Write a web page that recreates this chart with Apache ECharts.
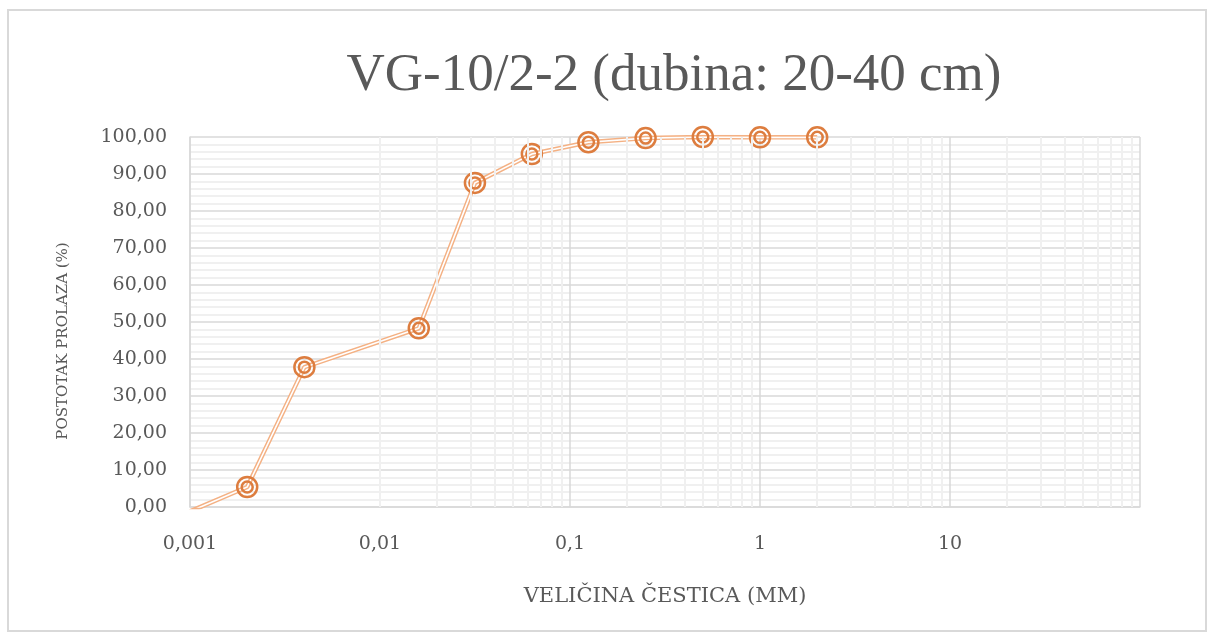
<!DOCTYPE html>
<html>
<head>
<meta charset="utf-8">
<style>
  html, body { margin: 0; padding: 0; background: #fff; }
  #chart { width: 1216px; height: 641px; }
</style>
<script src="https://cdn.jsdelivr.net/npm/echarts@6/dist/echarts.min.js"></script>
</head>
<body>
<div id="chart"></div>
<script>
// veličina čestica (mm) i postotak prolaza (%)
const particleSize = [0.001, 0.002, 0.004, 0.016, 0.0316, 0.063, 0.125, 0.25, 0.5, 1, 2]
const passing = [-1.2, 5.4, 37.8, 48.3, 87.6, 95.4, 98.6, 99.7, 100, 99.9, 99.9]

// pomoćne vertikalne linije (2..9 u svakoj dekadi)
const decades = [0.001, 0.01, 0.1, 1, 10]
const minorSteps = [2, 3, 4, 5, 6, 7, 8, 9]

const titleFont = '"Liberation Serif", "Times New Roman", serif'
const axisFont = '"DejaVu Serif", serif'
const textColor = '#595959'
const lineColor = '#f4b184'
const markerColor = '#dd7d3f'

const points = particleSize.map((x, i) => [x, passing[i]])

const minorLines = []
decades.forEach(d => {
  minorSteps.forEach(s => {
    minorLines.push({ xAxis: Number((d * s).toPrecision(6)) })
  })
})

const fmtComma = v => String(Number(v.toPrecision(6))).replace('.', ',')

const chart = echarts.init(document.getElementById('chart'))

chart.setOption({
  animation: false,
  graphic: [
    {
      type: 'rect',
      shape: { x: 8, y: 10, width: 1198, height: 621 },
      style: { fill: 'none', stroke: '#d9d9d9', lineWidth: 2 },
      silent: true
    },
    {
      type: 'text',
      x: 674,
      y: 76,
      style: {
        text: 'VG-10/2-2 (dubina: 20-40 cm)',
        fill: textColor,
        font: '53px ' + titleFont,
        textAlign: 'center',
        textVerticalAlign: 'middle'
      }
    },
    {
      // naziv y osi
      type: 'text',
      x: 63,
      y: 341,
      rotation: Math.PI / 2,
      style: {
        text: 'POSTOTAK PROLAZA (%)',
        fill: textColor,
        font: '15px ' + axisFont,
        textAlign: 'center',
        textVerticalAlign: 'middle'
      }
    }
  ],
  grid: {
    left: 190,
    right: 76,
    top: 137,
    bottom: 134
  },
  xAxis: {
    type: 'log',
    logBase: 10,
    min: 0.001,
    max: 100,
    name: 'VELIČINA ČESTICA (MM)',
    nameLocation: 'middle',
    nameGap: 79,
    nameTextStyle: { color: textColor, fontFamily: axisFont, fontSize: 21 },
    axisLine: { show: true, lineStyle: { color: '#d9d9d9', width: 1.5 } },
    axisTick: { show: false },
    axisLabel: {
      color: textColor,
      fontFamily: axisFont,
      fontSize: 19,
      margin: 28,
      showMaxLabel: false,
      formatter: fmtComma
    },
    splitLine: { show: true, lineStyle: { color: '#d9d9d9', width: 1.5 } }
  },
  yAxis: {
    type: 'value',
    min: 0,
    max: 100,
    interval: 10,
    axisLine: { show: true, lineStyle: { color: '#d9d9d9', width: 1.5 } },
    axisTick: { show: false },
    axisLabel: {
      color: textColor,
      fontFamily: axisFont,
      fontSize: 19,
      margin: 23,
      formatter: v => v.toFixed(2).replace('.', ',')
    },
    splitLine: { show: true, lineStyle: { color: '#d9d9d9', width: 1.5 } },
    minorTick: { show: false, splitNumber: 5 },
    minorSplitLine: { show: true, lineStyle: { color: '#f0f0f0', width: 2 } }
  },
  series: [
    {
      // vertikalna pomoćna mreža
      type: 'line',
      z: 1,
      data: [],
      silent: true,
      markLine: {
        silent: true,
        symbol: ['none', 'none'],
        label: { show: false },
        lineStyle: { color: '#f0f0f0', width: 2, type: 'solid' },
        emphasis: { disabled: true },
        data: minorLines
      }
    },
    {
      type: 'line',
      data: points,
      showSymbol: false,
      lineStyle: { color: lineColor, width: 4.5 },
      silent: true
    },
    {
      type: 'line',
      data: points,
      showSymbol: false,
      lineStyle: { color: '#ffffff', width: 1.6 },
      silent: true
    },
    {
      type: 'line',
      data: points,
      symbol: 'circle',
      symbolSize: 20,
      lineStyle: { width: 0, opacity: 0 },
      itemStyle: { color: 'rgba(0,0,0,0)', borderColor: markerColor, borderWidth: 2.5 },
      silent: true
    },
    {
      type: 'line',
      data: points,
      symbol: 'circle',
      symbolSize: 11,
      lineStyle: { width: 0, opacity: 0 },
      itemStyle: { color: 'rgba(0,0,0,0)', borderColor: markerColor, borderWidth: 2.5 },
      silent: true
    }
  ]
})
</script>
</body>
</html>
